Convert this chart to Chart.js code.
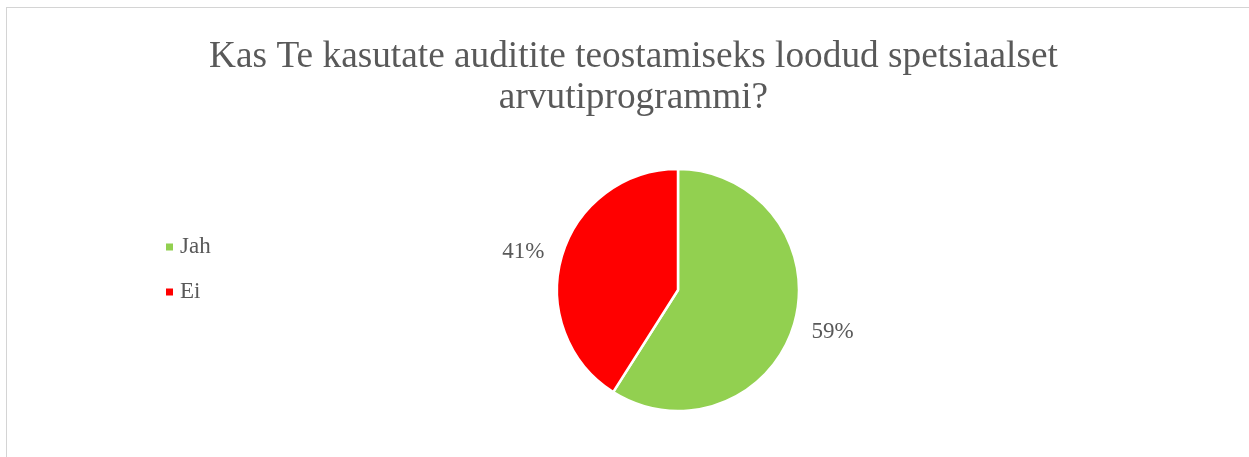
<!DOCTYPE html>
<html>
<head>
<meta charset="utf-8">
<script src="https://cdn.jsdelivr.net/npm/chart.js@4/dist/chart.umd.min.js"></script>
<style>
  html, body { margin: 0; padding: 0; background: #fff; overflow: hidden; }
  #frame { position: absolute; left: 6px; top: 7px; width: 1300px; height: 500px; border: 1px solid #d4d4d4; }
  #c { position: absolute; left: 0; top: 0; }
</style>
</head>
<body>
<div id="frame"></div>
<canvas id="c" width="1249" height="457"></canvas>
<script>
const TITLE_LINES = ["Kas Te kasutate auditite teostamiseks loodud spetsiaalset", "arvutiprogrammi?"];
const labels = ["Jah", "Ei"];
const shares = [59, 41];
const colors = ["#92D050", "#FF0000"];

const FONT = '"Liberation Serif", "Times New Roman", serif';
const TEXT = "#595959";

// title, legend and outside percentage labels
const decor = {
  id: "decor",
  afterDraw(chart) {
    const ctx = chart.ctx;
    ctx.save();
    ctx.fillStyle = TEXT;

    ctx.font = "37.3px " + FONT;
    ctx.textAlign = "center";
    ctx.textBaseline = "alphabetic";
    TITLE_LINES.forEach((line, i) => ctx.fillText(line, 633.5, 67 + i * 41));

    ctx.font = "23px " + FONT;
    ctx.textAlign = "left";
    ctx.textBaseline = "middle";
    chart.data.labels.forEach((name, i) => {
      const y = 247 + i * 45;
      ctx.fillStyle = chart.data.datasets[0].backgroundColor[i];
      ctx.fillRect(166, y - 3.5, 7, 7);
      ctx.fillStyle = TEXT;
      ctx.fillText(name, 180, y);
    });

    ctx.textAlign = "center";
    const meta = chart.getDatasetMeta(0);
    meta.data.forEach((arc, i) => {
      const p = arc.getProps(["x", "y", "startAngle", "endAngle", "outerRadius"], true);
      const mid = (p.startAngle + p.endAngle) / 2;
      const rx = p.outerRadius + 40;
      const ry = p.outerRadius + 21;
      ctx.fillText(chart.data.datasets[0].data[i] + "%", p.x + Math.cos(mid) * rx, p.y + Math.sin(mid) * ry + 2);
    });
    ctx.restore();
  },
};

new Chart(document.getElementById("c"), {
  type: "pie",
  data: {
    labels,
    datasets: [{ data: shares, backgroundColor: colors, borderColor: "#ffffff", borderWidth: 2.5, radius: 121 }],
  },
  options: {
    responsive: false,
    animation: false,
    layout: { padding: { left: 437, right: 330, top: 150, bottom: 27 } },
    plugins: { legend: { display: false }, title: { display: false }, tooltip: { enabled: false } },
  },
  plugins: [decor],
});
</script>
</body>
</html>
